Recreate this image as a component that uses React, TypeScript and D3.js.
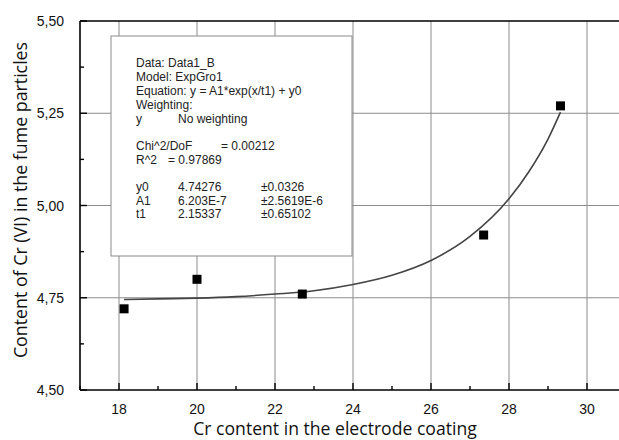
import React, { useEffect, useRef } from 'react';
import * as d3 from 'd3';

// measured points (Cr content vs Cr(VI) content)
const crContent = [18.13, 20.0, 22.7, 27.35, 29.32];
const crVI = [4.72, 4.8, 4.76, 4.92, 5.27];

// fitted curve
const fitX = [18.13, 19, 20, 21, 22, 23, 24, 25, 26, 27, 28, 28.5, 29, 29.32];
const fitY = [4.745, 4.747, 4.749, 4.753, 4.76, 4.769, 4.786, 4.811, 4.851, 4.916, 5.018, 5.09, 5.18, 5.253];

const xTicks = [18, 20, 22, 24, 26, 28, 30];
const yTicks = [4.5, 4.75, 5.0, 5.25, 5.5];

// fit report text
const reportHead = [
  'Data: Data1_B',
  'Model: ExpGro1',
  'Equation: y = A1*exp(x/t1) + y0',
  'Weighting:',
];
const reportStats = [
  ['Chi^2/DoF', '= 0.00212'],
  ['R^2', '=  0.97869'],
];
const paramNames = ['y0', 'A1', 't1'];
const paramValues = ['4.74276', '6.203E-7', '2.15337'];
const paramErrors = ['\u00b10.0326', '\u00b12.5619E-6', '\u00b10.65102'];

export default function App() {
  const ref = useRef<SVGSVGElement>(null);

  useEffect(() => {
    const svg = d3.select(ref.current);
    svg.selectAll('*').remove();

    const left = 80, top = 21, bottom = 390, right = 626;
    const x = d3.scaleLinear().domain([17, 31]).range([left, right]);
    const y = d3.scaleLinear().domain([4.5, 5.5]).range([bottom, top]);

    svg.append('rect').attr('width', 619).attr('height', 440).attr('fill', '#fff');

    // grid
    const grid = svg.append('g').attr('stroke', '#8c8c8c').attr('stroke-width', 1);
    xTicks.forEach(t => {
      grid.append('line')
        .attr('x1', x(t)).attr('x2', x(t))
        .attr('y1', top).attr('y2', bottom);
    });
    yTicks.slice(1, -1).forEach(t => {
      grid.append('line')
        .attr('x1', left).attr('x2', right)
        .attr('y1', y(t)).attr('y2', y(t));
    });

    // report box
    svg.append('rect')
      .attr('x', 111).attr('y', 36).attr('width', 241).attr('height', 220)
      .attr('fill', '#fff').attr('stroke', '#8a8a8a').attr('stroke-width', 1);

    const box = svg.append('g')
      .attr('font-family', 'Liberation Sans, Arial, sans-serif')
      .attr('font-size', 12)
      .attr('fill', '#222');
    reportHead.forEach((s, i) => {
      box.append('text').attr('x', 136).attr('y', 67 + i * 14).text(s);
    });
    box.append('text').attr('x', 136).attr('y', 123).text('y');
    box.append('text').attr('x', 178).attr('y', 123).text('No weighting');
    box.append('text').attr('x', 136).attr('y', 150).text(reportStats[0][0]);
    box.append('text').attr('x', 221).attr('y', 150).text(reportStats[0][1]);
    box.append('text').attr('x', 136).attr('y', 164).text(reportStats[1][0]);
    box.append('text').attr('x', 168).attr('y', 164).text(reportStats[1][1]);
    paramNames.forEach((n, i) => {
      const yy = 191 + i * 13.5;
      box.append('text').attr('x', 136).attr('y', yy).text(n);
      box.append('text').attr('x', 178).attr('y', yy).text(paramValues[i]);
      box.append('text').attr('x', 261).attr('y', yy).text(paramErrors[i]);
    });

    // axes frame
    const axisG = svg.append('g').attr('stroke', '#000').attr('stroke-width', 1.6);
    axisG.append('line').attr('x1', left).attr('x2', right).attr('y1', bottom).attr('y2', bottom);
    axisG.append('line').attr('x1', left).attr('x2', left).attr('y1', top).attr('y2', bottom);
    axisG.append('line').attr('x1', left).attr('x2', right).attr('y1', top).attr('y2', top);

    // inward ticks
    const tickG = svg.append('g').attr('stroke', '#000').attr('stroke-width', 1.4);
    d3.range(17, 31.01, 1).forEach(t => {
      const len = t % 2 === 0 ? 7 : 4;
      tickG.append('line').attr('x1', x(t)).attr('x2', x(t)).attr('y1', bottom).attr('y2', bottom - len);
    });
    d3.range(4.5, 5.501, 0.125).forEach(t => {
      const major = Math.abs(t * 4 - Math.round(t * 4)) < 1e-6;
      const len = major ? 7 : 4;
      tickG.append('line').attr('x1', left).attr('x2', left + len).attr('y1', y(t)).attr('y2', y(t));
    });

    // tick labels
    const lab = svg.append('g')
      .attr('font-family', 'Liberation Sans, Arial, sans-serif')
      .attr('font-size', 14)
      .attr('fill', '#111');
    xTicks.forEach(t => {
      lab.append('text').attr('x', x(t)).attr('y', 414).attr('text-anchor', 'middle').text(String(t));
    });
    yTicks.forEach(t => {
      lab.append('text')
        .attr('x', 64).attr('y', y(t) + 5)
        .attr('text-anchor', 'end')
        .text(d3.format('.2f')(t).replace('.', ','));
    });

    // fit curve
    const line = d3.line<number>()
      .x((d, i) => x(fitX[i]))
      .y(d => y(d))
      .curve(d3.curveMonotoneX);
    svg.append('path')
      .attr('d', line(fitY))
      .attr('fill', 'none')
      .attr('stroke', '#444')
      .attr('stroke-width', 1.6);

    // points
    svg.append('g').selectAll('rect')
      .data(crContent).enter()
      .append('rect')
      .attr('x', (d) => x(d) - 4.5)
      .attr('y', (d, i) => y(crVI[i]) - 4.5)
      .attr('width', 9).attr('height', 9)
      .attr('fill', '#000');

    // axis titles
    svg.append('text')
      .attr('x', 335).attr('y', 435)
      .attr('text-anchor', 'middle')
      .attr('font-family', 'Open Sans, sans-serif')
      .attr('font-size', 17.6)
      .attr('fill', '#111')
      .text('Cr content in the electrode coating');
    svg.append('text')
      .attr('transform', 'translate(27,200) rotate(-90)')
      .attr('text-anchor', 'middle')
      .attr('font-family', 'Open Sans, sans-serif')
      .attr('font-size', 17.8)
      .attr('fill', '#111')
      .text('Content of Cr (VI) in the fume particles');
  }, []);

  return (
    <div style={{ position: 'absolute', left: 0, top: 0, width: 619, height: 440, overflow: 'hidden' }}>
      <svg ref={ref} width={619} height={440} style={{ display: 'block' }} />
    </div>
  );
}
